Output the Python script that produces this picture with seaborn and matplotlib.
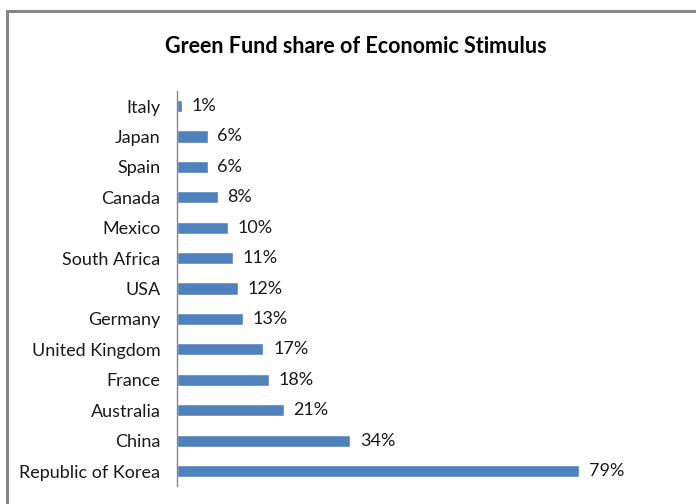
import matplotlib
matplotlib.use("Agg")
import matplotlib.pyplot as plt
import seaborn as sns
import pandas as pd
from matplotlib.patches import Rectangle

# data (top to bottom)
countries = ["Italy", "Japan", "Spain", "Canada", "Mexico", "South Africa", "USA",
             "Germany", "United Kingdom", "France", "Australia", "China", "Republic of Korea"]
share = [1, 6, 6, 8, 10, 11, 12, 13, 17, 18, 21, 34, 79]

df = pd.DataFrame({"country": countries, "share": share})

sns.set_style("white")
plt.rcParams["font.family"] = ["Lato", "DejaVu Sans"]

fig = plt.figure(figsize=(6.96, 5.04), dpi=100)
ax = fig.add_axes([0.2543, 0.0353, 0.658, 0.7845])

sns.barplot(data=df, x="share", y="country", orient="h", color="#4F81BD",
            saturation=1, width=0.4, ax=ax)

ax.set_xlim(0, 90)
ax.set_xlabel("")
ax.set_ylabel("")
ax.set_xticks([])
for s in ["top", "right", "bottom"]:
    ax.spines[s].set_visible(False)
ax.spines["left"].set_color("#868686")
ax.spines["left"].set_linewidth(1)
ax.tick_params(axis="y", length=0, pad=12, labelsize=13, labelcolor="#1a1a1a")

# value labels
for i, v in enumerate(share):
    ax.annotate(f"{v}%", xy=(v, i), xytext=(7, 0), textcoords="offset points",
                va="center", ha="left", fontsize=13, color="#1a1a1a")

fig.text(0.511, 0.907, "Green Fund share of Economic Stimulus", ha="center", va="center",
         fontsize=15.5, fontweight="bold", color="#000000")

# chart area border (cropped on right and bottom)
fig.add_artist(Rectangle((0.0101, -0.1), 1.2, 1.078, transform=fig.transFigure,
                         fill=False, edgecolor="#868686", linewidth=2.2))

fig.savefig("out.png", dpi=100)
